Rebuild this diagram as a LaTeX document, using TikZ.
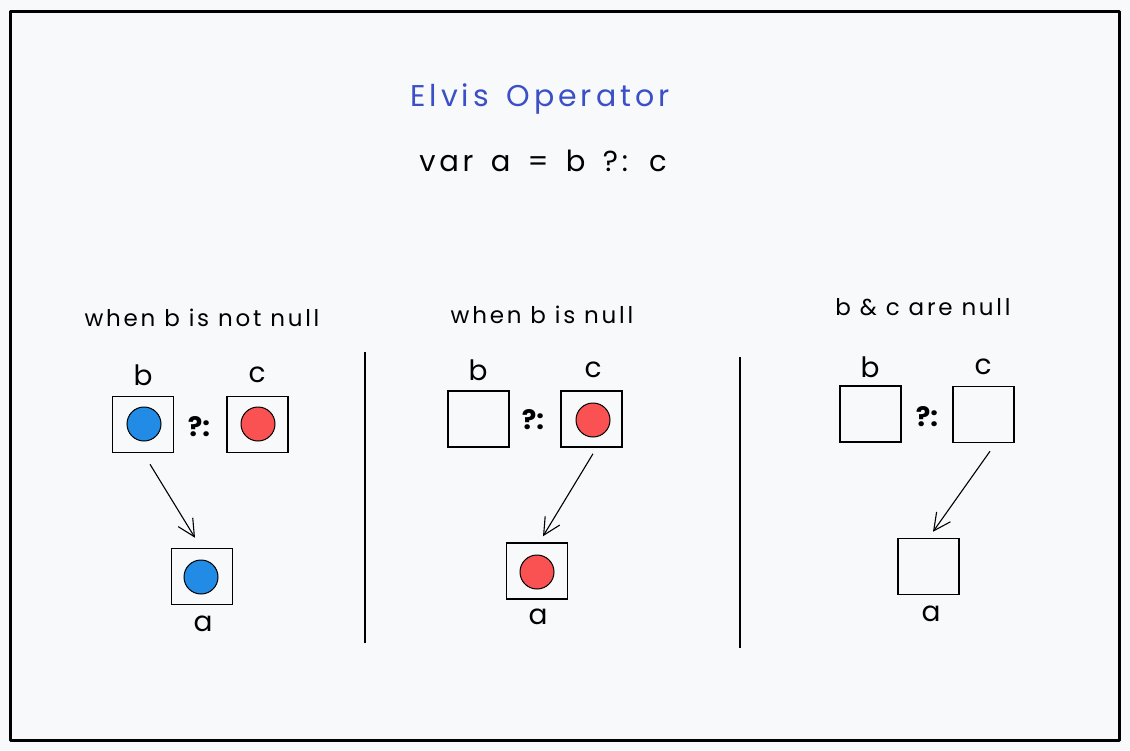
\documentclass[tikz,border=0pt]{standalone}
\usepackage{fontspec}
\setmainfont{Poppins}
\newfontfamily\spacedfont[LetterSpace=12]{Poppins}
\newfontfamily\titlefont[LetterSpace=13]{Poppins}
\newfontfamily\codefont[LetterSpace=13,WordSpace=1.5]{Poppins}
\usetikzlibrary{arrows.meta}
\definecolor{bgc}{HTML}{F8F9FA}
\definecolor{titleblue}{HTML}{3B4FC7}
\definecolor{ballblue}{HTML}{228BE6}
\definecolor{ballred}{HTML}{FA5252}
\tikzset{
  cell/.style={draw=black, line width=1.5pt, minimum width=61pt, minimum height=56pt, inner sep=0pt},
  ballb/.style={circle, draw=black, line width=1pt, fill=ballblue, minimum size=34pt, inner sep=0pt},
  ballr/.style={circle, draw=black, line width=1pt, fill=ballred, minimum size=34pt, inner sep=0pt},
  caption/.style={font=\spacedfont\fontsize{23}{26}\selectfont, inner sep=0pt},
  letter/.style={font=\fontsize{28}{32}\selectfont, inner sep=0pt},
  elvis/.style={font=\fontsize{27}{30}\selectfont\bfseries, inner sep=0pt},
  arr/.style={draw=black, line width=1.1pt, -{Straight Barb[length=17pt, width=17pt, line width=1.1pt]}},
  divider/.style={draw=black, line width=1.2pt},
}
\begin{document}
\begin{tikzpicture}[x=1pt, y=-1pt]
\useasboundingbox (0,0) rectangle (1130,750);
\fill[bgc] (0,0) rectangle (1130,750);
\draw[line width=3pt, line join=round] (10,11) rectangle (1119,740);

% titles
\node[font=\titlefont\fontsize{30}{34}\selectfont, text=titleblue, inner sep=0pt] (title) at (540,99) {Elvis Operator};
\node[font=\codefont\fontsize{29}{34}\selectfont, inner sep=0pt] (code) at (543,161) {var a = b ?: c};

% dividers
\coordinate (d1t) at (365,352); \coordinate (d1b) at (365,643);
\coordinate (d2t) at (740,357); \coordinate (d2b) at (740,648);
\draw[divider] (d1t) -- (d1b);
\draw[divider] (d2t) -- (d2b);

% panel 1
\node[caption] (cap1) at (202,318) {when b is not null};
\node[letter] (lb1) at (143,375) {b};
\node[letter] (lc1) at (257,375) {c};
\node[cell] (b1) at (143,424.5) {};
\node[cell] (c1) at (257.5,424.5) {};
\node[elvis] (op1) at (199,427) {?:};
\node[ballb] (bb1) at (144,424) {};
\node[ballr] (bc1) at (258,424) {};
\node[cell] (a1) at (202,576.5) {};
\node[ballb] (ba1) at (201,577) {};
\node[letter] (la1) at (203,624) {a};
\draw[arr] ([xshift=7pt,yshift=-11pt]b1.south) -- ([xshift=-7pt,yshift=10pt]a1.north);

% panel 2
\node[caption] (cap2) at (542,315) {when b is null};
\node[letter] (lb2) at (478,370) {b};
\node[letter] (lc2) at (593,370) {c};
\node[cell] (b2) at (478.5,419) {};
\node[cell] (c2) at (591.5,419) {};
\node[elvis] (op2) at (533,420) {?:};
\node[ballr] (bc2) at (593,420) {};
\node[cell] (a2) at (537,571) {};
\node[ballr] (ba2) at (537,572) {};
\node[letter] (la2) at (538,617) {a};
\draw[arr] ([xshift=1.5pt,yshift=-6pt]c2.south) -- ([xshift=6pt,yshift=6pt]a2.north);

% panel 3
\node[caption] (cap3) at (923,307) {b \& c are null};
\node[letter] (lb3) at (870,367) {b};
\node[letter] (lc3) at (983,367) {c};
\node[cell] (b3) at (870.5,414) {};
\node[cell] (c3) at (983.5,414.5) {};
\node[elvis] (op3) at (927,417) {?:};
\node[cell] (a3) at (928.5,566.5) {};
\node[letter] (la3) at (931,614) {a};
\draw[arr] ([xshift=6.5pt,yshift=-8pt]c3.south) -- ([xshift=4.5pt,yshift=6pt]a3.north);
\end{tikzpicture}
\end{document}
